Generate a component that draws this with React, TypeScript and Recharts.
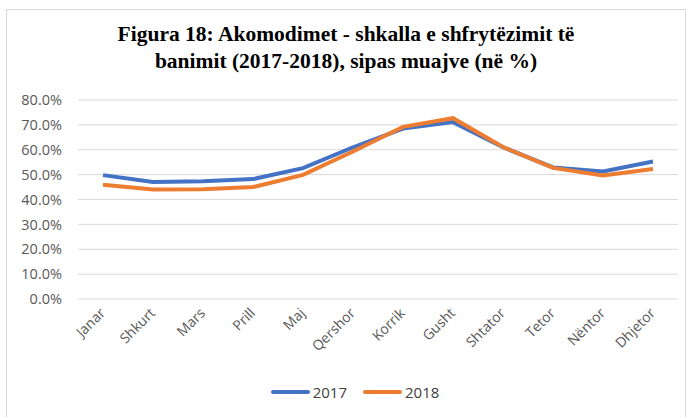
import { LineChart, Line, XAxis, YAxis, CartesianGrid } from "recharts";

const months = ["Janar", "Shkurt", "Mars", "Prill", "Maj", "Qershor", "Korrik", "Gusht", "Shtator", "Tetor", "Nëntor", "Dhjetor"];
const values2017 = [49.8, 47.0, 47.3, 48.2, 52.6, 61.0, 68.5, 71.1, 61.0, 52.9, 51.3, 55.3];
const values2018 = [45.9, 44.0, 44.1, 45.0, 49.9, 59.3, 69.2, 72.7, 61.1, 52.7, 49.7, 52.3];
const yTicks = [0, 10, 20, 30, 40, 50, 60, 70, 80];

const BLUE = "#4472C4";
const ORANGE = "#ED7D31";
const AXIS_TEXT = "#595959";
const SANS = "'Open Sans', 'Liberation Sans', Arial, sans-serif";

const data = months.map((m, i) => ({ name: m, "2017": values2017[i], "2018": values2018[i] }));

const MonthTick = ({ x, y, payload }: any) => (
  <g transform={`translate(${x + 3},${y + 7})`}>
    <text x={0} y={0} textAnchor="end" transform="rotate(-45)" fontSize={14} fontFamily={SANS} fill={AXIS_TEXT}>
      {payload.value}
    </text>
  </g>
);

export default function App() {
  return (
    <div style={{ position: "absolute", left: 0, top: 0, width: 688, height: 417, background: "#fff", overflow: "hidden" }}>
      <div style={{ position: "absolute", left: 6, top: 9, width: 680, height: 420, border: "1px solid #d9d9d9", boxSizing: "border-box" }} />
      <div
        style={{
          position: "absolute", left: 0, top: 21, width: 692, textAlign: "center",
          fontFamily: "'Liberation Serif', 'Times New Roman', serif", fontWeight: "bold",
          fontSize: 21.5, lineHeight: "27px", color: "#000",
        }}
      >
        Figura 18: Akomodimet - shkalla e shfrytëzimit të
        <br />
        banimit (2017-2018), sipas muajve (në %)
      </div>
      <div style={{ position: "absolute", left: 0, top: 0 }}>
        <LineChart width={688} height={417} data={data} margin={{ top: 100, right: 10, bottom: 0, left: 0 }}>
          <CartesianGrid vertical={false} stroke="#d9d9d9" />
          <XAxis
            dataKey="name"
            height={118}
            axisLine={false}
            tickLine={false}
            interval={0}
            padding={{ left: 25, right: 25 }}
            tick={<MonthTick />}
          />
          <YAxis
            width={78}
            domain={[0, 80]}
            ticks={yTicks}
            axisLine={false}
            tickLine={false}
            tickMargin={10}
            tickFormatter={(v: number) => `${v.toFixed(1)}%`}
            tick={{ fontSize: 14.5, fill: AXIS_TEXT, fontFamily: SANS }}
          />
          <Line type="linear" dataKey="2017" stroke={BLUE} strokeWidth={4} dot={false} isAnimationActive={false} />
          <Line type="linear" dataKey="2018" stroke={ORANGE} strokeWidth={4} dot={false} isAnimationActive={false} />
        </LineChart>
      </div>
      <div
        style={{
          position: "absolute", left: 0, top: 382, width: 688, display: "flex", justifyContent: "center",
          gap: 16, fontFamily: SANS, fontSize: 15, color: "#404040",
          paddingLeft: 22, boxSizing: "border-box",
        }}
      >
        {[["2017", BLUE], ["2018", ORANGE]].map(([label, color]) => (
          <div key={label} style={{ display: "flex", alignItems: "center", gap: 3 }}>
            <span style={{ display: "inline-block", width: 39, height: 4, borderRadius: 2, background: color }} />
            <span>{label}</span>
          </div>
        ))}
      </div>
    </div>
  );
}
